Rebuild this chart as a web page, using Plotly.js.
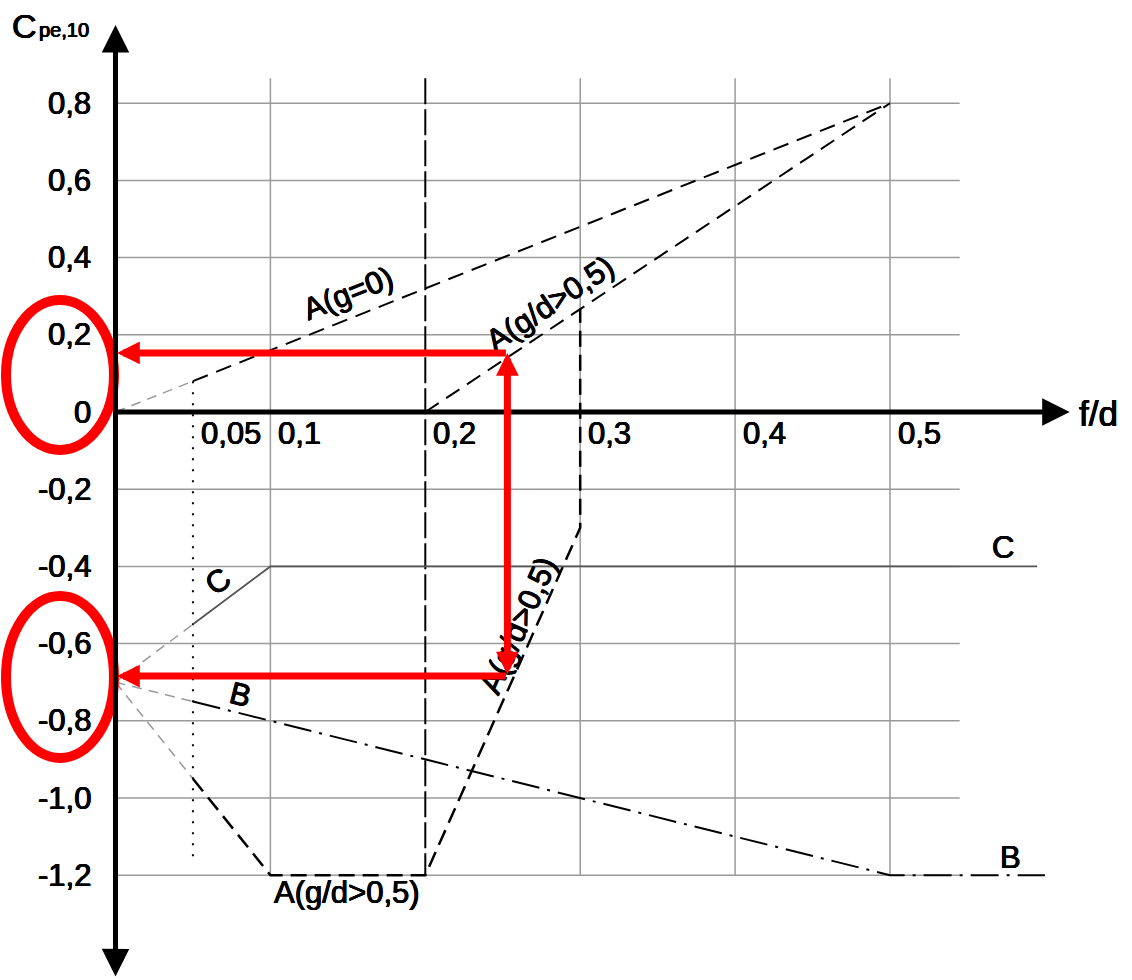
<!DOCTYPE html>
<html>
<head>
<meta charset="utf-8">
<script src="https://cdn.plot.ly/plotly-3.0.1.min.js"></script>
<style>
    html, body { margin: 0; padding: 0; background: #ffffff; }
    #cpe-graph { width: 1132px; height: 980px; }
</style>
</head>
<body>
<div id="cpe-graph"></div>
<script>
    // ticks of the diagram
    var yTickVals = [0.8, 0.6, 0.4, 0.2, 0, -0.2, -0.4, -0.6, -0.8, -1.0, -1.2];
    var yTickText = ['0,8', '0,6', '0,4', '0,2', '0', '-0,2', '-0,4', '-0,6', '-0,8', '-1,0', '-1,2'];
    var xTickVals = [0.05, 0.1, 0.2, 0.3, 0.4, 0.5];
    var xTickText = ['0,05', '0,1', '0,2', '0,3', '0,4', '0,5'];
    var xGridVals = [0.1, 0.3, 0.4, 0.5];

    // curve A, g = 0
    var aZeroGreyX = [0, 0.05];
    var aZeroGreyY = [0, 0.08];
    var aZeroX = [0.05, 0.5];
    var aZeroY = [0.08, 0.8];

    // curve A, g/d > 0,5 - upper branch
    var aHighUpX = [0.2, 0.5];
    var aHighUpY = [0, 0.8];

    // curve A, g/d > 0,5 - lower branch
    var aHighLowGreyX = [0, 0.05];
    var aHighLowGreyY = [-0.7, -0.95];
    var aHighLowX = [0.05, 0.1, 0.2, 0.3, 0.3];
    var aHighLowY = [-0.95, -1.2, -1.2, -0.3, 0.267];

    // curve B
    var bGreyX = [0, 0.05];
    var bGreyY = [-0.7, -0.75];
    var bX = [0.05, 0.5, 0.6];
    var bY = [-0.75, -1.2, -1.2];

    // curve C
    var cGreyX = [0, 0.05];
    var cGreyY = [-0.7, -0.55];
    var cX = [0.05, 0.1, 0.595];
    var cY = [-0.55, -0.4, -0.4];

    // f/d = 0,2 limit and f/d = 0,05 dotted line
    var limitX = [0.2, 0.2];
    var limitY = [0.865, -1.2];
    var dotX = [0.05, 0.05];
    var dotY = [0.08, -1.17];

    // red example reading
    var readFd = 0.253;
    var readCpe = [0.153, -0.684];

    // curve labels
    var labelText = ['A(g=0)', 'A(g/d>0,5)', 'A(g/d>0,5)', 'A(g/d>0,5)', 'C', 'C', 'B', 'B'];
    var labelX = [0.150, 0.2805, 0.2598, 0.1494, 0.066, 0.573, 0.0804, 0.5775];
    var labelY = [0.308, 0.282, -0.552, -1.246, -0.440, -0.352, -0.733, -1.155];
    var labelAngle = [-21.7, -33.6, -66, 0, -37, 0, 14, 0];

    var FONT = 'Liberation Sans, Arial, sans-serif';
    // slightly heavier strokes, like the scanned lettering
    var HEAVY = '0.45px 0 0 #000, -0.45px 0 0 #000, 0 0.45px 0 #000, 0 -0.45px 0 #000';
    var GREY = '#9a9a9a';

    function line(x, y, color, width, dash) {
        return {
            x: x,
            y: y,
            mode: 'lines',
            line: {color: color, width: width, dash: dash},
            hoverinfo: 'skip',
            showlegend: false
        };
    }

    function txtFont(size) {
        return {family: FONT, size: size, color: '#000000', shadow: HEAVY};
    }

    function px2paperX(p) { return p / 1132; }
    function px2paperY(p) { return 1 - p / 980; }

    var data = [
        line(aZeroGreyX, aZeroGreyY, GREY, 1.5, '10px,7px'),
        line(aHighLowGreyX, aHighLowGreyY, GREY, 1.5, '10px,7px'),
        line(bGreyX, bGreyY, GREY, 1.5, '10px,7px'),
        line(cGreyX, cGreyY, GREY, 1.5, '10px,7px'),
        line(dotX, dotY, '#000000', 2, '2px,9px'),
        line(limitX, limitY, '#000000', 2, '26px,5px'),
        line(aZeroX, aZeroY, '#000000', 2, '16px,9px'),
        line(aHighUpX, aHighUpY, '#000000', 2, '16px,9px'),
        line(aHighLowX, aHighLowY, '#000000', 2.5, '16px,8px'),
        line(cX, cY, '#555555', 1.8, 'solid'),
        line(bX, bY, '#000000', 2, '28px,8px,3px,8px')
    ];

    var shapes = [];
    yTickVals.forEach(function (v) {
        if (v === 0) return;
        shapes.push({
            type: 'line', xref: 'x', yref: 'y', layer: 'below',
            x0: 0, x1: 0.545, y0: v, y1: v,
            line: {color: GREY, width: 1.5}
        });
    });
    xGridVals.forEach(function (v) {
        shapes.push({
            type: 'line', xref: 'x', yref: 'y', layer: 'below',
            x0: v, x1: v, y0: -1.2, y1: 0.865,
            line: {color: GREY, width: 1.5}
        });
    });
    // red rings round the read values
    shapes.push({
        type: 'circle', xref: 'paper', yref: 'paper', layer: 'above',
        x0: px2paperX(6), x1: px2paperX(114), y0: px2paperY(300), y1: px2paperY(450),
        line: {color: '#ff0000', width: 10}
    });
    shapes.push({
        type: 'circle', xref: 'paper', yref: 'paper', layer: 'above',
        x0: px2paperX(6), x1: px2paperX(114), y0: px2paperY(596), y1: px2paperY(758),
        line: {color: '#ff0000', width: 10}
    });

    var annotations = [];

    // tick labels
    yTickVals.forEach(function (v, i) {
        annotations.push({
            x: 0, y: v, xref: 'x', yref: 'y', text: yTickText[i], showarrow: false,
            xanchor: 'right', yanchor: 'middle', xshift: -22,
            font: txtFont(31)
        });
    });
    xTickVals.forEach(function (v, i) {
        annotations.push({
            x: v, y: 0, xref: 'x', yref: 'y', text: xTickText[i], showarrow: false,
            xanchor: 'left', yanchor: 'middle', xshift: 6, yshift: -21,
            font: txtFont(31)
        });
    });

    // curve labels
    labelText.forEach(function (t, i) {
        annotations.push({
            x: labelX[i], y: labelY[i], xref: 'x', yref: 'y', text: t, showarrow: false,
            textangle: labelAngle[i], xanchor: 'center', yanchor: 'middle',
            font: txtFont(31)
        });
    });

    // axes with arrows
    annotations.push({
        x: 0.616, y: 0, ax: -0.0016, ay: 0, xref: 'x', yref: 'y', axref: 'x', ayref: 'y',
        text: '', showarrow: true, arrowhead: 2, arrowsize: 1.1, arrowwidth: 5, arrowcolor: '#000000'
    });
    annotations.push({
        x: 0, y: 1.0026, ax: 0, ay: -1.466, xref: 'x', yref: 'y', axref: 'x', ayref: 'y',
        text: '', showarrow: true, arrowside: 'end+start',
        arrowhead: 2, startarrowhead: 2, arrowsize: 1.1, startarrowsize: 1.1,
        arrowwidth: 5, arrowcolor: '#000000'
    });
    annotations.push({
        x: 0.6205, y: 0, xref: 'x', yref: 'y', text: 'f/d', showarrow: false,
        xanchor: 'left', yanchor: 'middle', yshift: -1,
        font: txtFont(35)
    });
    annotations.push({
        x: px2paperX(10), y: px2paperY(26), xref: 'paper', yref: 'paper', text: 'C', showarrow: false,
        xanchor: 'left', yanchor: 'middle',
        font: txtFont(34)
    });
    annotations.push({
        x: px2paperX(37), y: px2paperY(30), xref: 'paper', yref: 'paper', text: 'pe,10', showarrow: false,
        xanchor: 'left', yanchor: 'middle',
        font: txtFont(20)
    });

    // red reading arrows
    annotations.push({
        x: 0.001, y: readCpe[0], ax: readFd, ay: readCpe[0], xref: 'x', yref: 'y', axref: 'x', ayref: 'y',
        text: '', showarrow: true, arrowhead: 2, arrowsize: 0.65, arrowwidth: 7, arrowcolor: '#ff0000'
    });
    annotations.push({
        x: 0.001, y: readCpe[1], ax: readFd, ay: readCpe[1], xref: 'x', yref: 'y', axref: 'x', ayref: 'y',
        text: '', showarrow: true, arrowhead: 2, arrowsize: 0.65, arrowwidth: 7, arrowcolor: '#ff0000'
    });
    annotations.push({
        x: readFd, y: readCpe[0], ax: readFd, ay: readCpe[1], xref: 'x', yref: 'y', axref: 'x', ayref: 'y',
        text: '', showarrow: true, arrowside: 'end+start',
        arrowhead: 2, startarrowhead: 2, arrowsize: 0.65, startarrowsize: 0.65,
        arrowwidth: 7, arrowcolor: '#ff0000'
    });

    var layout = {
        width: 1132,
        height: 980,
        margin: {l: 0, r: 0, t: 0, b: 0},
        paper_bgcolor: '#ffffff',
        plot_bgcolor: '#ffffff',
        xaxis: {range: [-0.07456, 0.65623], visible: false, fixedrange: true},
        yaxis: {range: [-1.4715, 1.0674], visible: false, fixedrange: true},
        shapes: shapes,
        annotations: annotations,
        showlegend: false
    };

    Plotly.newPlot('cpe-graph', data, layout, {staticPlot: true});
</script>
</body>
</html>
